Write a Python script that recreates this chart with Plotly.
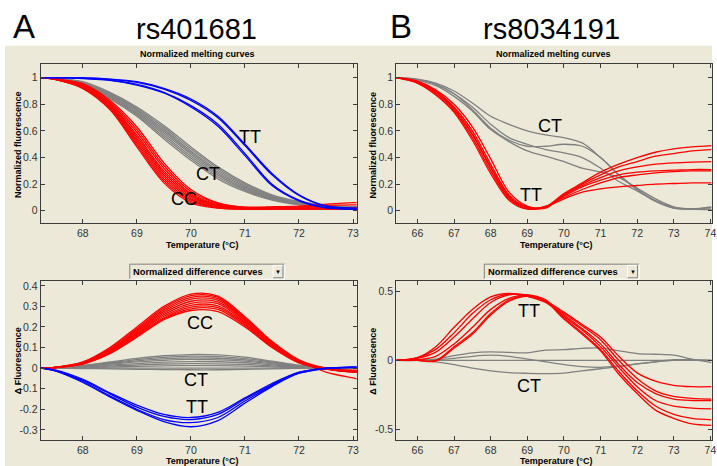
import plotly.graph_objects as go

# ---------------- data ----------------
T_A = [67.22, 67.5, 68.0, 68.5, 69.0, 69.5, 70.0, 70.5, 71.0, 71.5, 72.0, 72.5, 73.0, 73.07]
T_B = [65.42, 66.0, 66.5, 67.0, 67.5, 68.0, 68.5, 69.0, 69.5, 70.0, 70.5, 71.0, 71.5, 72.0, 72.5, 73.0, 73.5, 74.03]

# rs401681 normalized melting curves
A_melt_CC = [
    [1, 0.990, 0.955, 0.830, 0.630, 0.360, 0.160, 0.060, 0.028, 0.030, 0.035, 0.050, 0.062, 0.062],
    [1, 0.990, 0.950, 0.820, 0.610, 0.340, 0.145, 0.055, 0.025, 0.028, 0.030, 0.040, 0.045, 0.045],
    [1, 0.989, 0.945, 0.810, 0.590, 0.320, 0.130, 0.048, 0.022, 0.022, 0.022, 0.022, 0.022, 0.022],
    [1, 0.988, 0.940, 0.800, 0.570, 0.300, 0.120, 0.042, 0.020, 0.025, 0.022, 0.020, 0.020, 0.020],
    [1, 0.988, 0.935, 0.795, 0.555, 0.285, 0.110, 0.038, 0.018, 0.020, 0.020, 0.020, 0.020, 0.020],
    [1, 0.987, 0.932, 0.785, 0.540, 0.270, 0.100, 0.034, 0.016, 0.018, 0.018, 0.018, 0.018, 0.018],
    [1, 0.987, 0.928, 0.778, 0.525, 0.255, 0.090, 0.030, 0.015, 0.016, 0.016, 0.016, 0.016, 0.016],
    [1, 0.986, 0.925, 0.772, 0.510, 0.240, 0.080, 0.026, 0.014, 0.015, 0.015, 0.015, 0.015, 0.015],
    [1, 0.986, 0.921, 0.765, 0.495, 0.225, 0.070, 0.023, 0.013, 0.014, 0.014, 0.014, 0.014, 0.014],
    [1, 0.985, 0.918, 0.760, 0.480, 0.210, 0.060, 0.020, 0.012, 0.012, 0.012, 0.012, 0.012, 0.012],
]
A_melt_CT = [
    [1, 0.995, 0.970, 0.890, 0.780, 0.640, 0.480, 0.330, 0.210, 0.120, 0.070, 0.042, 0.030, 0.030],
    [1, 0.994, 0.965, 0.882, 0.770, 0.625, 0.465, 0.318, 0.200, 0.113, 0.066, 0.040, 0.029, 0.029],
    [1, 0.993, 0.960, 0.875, 0.760, 0.610, 0.450, 0.305, 0.190, 0.107, 0.062, 0.038, 0.028, 0.028],
    [1, 0.993, 0.956, 0.868, 0.750, 0.598, 0.438, 0.292, 0.182, 0.101, 0.058, 0.036, 0.027, 0.027],
    [1, 0.992, 0.952, 0.862, 0.740, 0.585, 0.425, 0.280, 0.172, 0.096, 0.055, 0.034, 0.026, 0.026],
    [1, 0.991, 0.948, 0.855, 0.730, 0.570, 0.410, 0.268, 0.163, 0.090, 0.051, 0.032, 0.026, 0.026],
    [1, 0.991, 0.944, 0.848, 0.720, 0.555, 0.395, 0.254, 0.154, 0.085, 0.048, 0.031, 0.025, 0.025],
    [1, 0.990, 0.940, 0.840, 0.710, 0.540, 0.380, 0.240, 0.145, 0.080, 0.045, 0.030, 0.025, 0.025],
]
A_melt_TT = [
    [1, 1.000, 0.998, 0.990, 0.970, 0.920, 0.840, 0.710, 0.500, 0.280, 0.120, 0.037, 0.020, 0.020],
    [1, 1.000, 0.998, 0.988, 0.965, 0.915, 0.830, 0.700, 0.490, 0.270, 0.115, 0.035, 0.020, 0.020],
    [1, 1.000, 0.995, 0.982, 0.950, 0.890, 0.790, 0.650, 0.430, 0.200, 0.080, 0.025, 0.012, 0.012],
    [1, 1.000, 0.994, 0.980, 0.945, 0.885, 0.780, 0.635, 0.415, 0.190, 0.075, 0.022, 0.012, 0.012],
]

# rs401681 normalized difference curves
A_diff_CC = [
    [0, 0.004, 0.030, 0.100, 0.200, 0.300, 0.360, 0.350, 0.250, 0.130, 0.040, 0.000, -0.010, -0.010],
    [0, 0.004, 0.028, 0.095, 0.192, 0.292, 0.352, 0.345, 0.245, 0.127, 0.038, -0.002, -0.012, -0.012],
    [0, 0.004, 0.027, 0.091, 0.186, 0.284, 0.344, 0.338, 0.240, 0.124, 0.037, -0.020, -0.048, -0.052],
    [0, 0.004, 0.026, 0.088, 0.180, 0.276, 0.335, 0.330, 0.235, 0.120, 0.035, -0.003, -0.014, -0.014],
    [0, 0.003, 0.025, 0.085, 0.175, 0.268, 0.325, 0.322, 0.230, 0.117, 0.034, -0.003, -0.015, -0.015],
    [0, 0.003, 0.024, 0.082, 0.170, 0.260, 0.315, 0.313, 0.224, 0.113, 0.032, -0.004, -0.016, -0.016],
    [0, 0.003, 0.023, 0.079, 0.165, 0.252, 0.305, 0.303, 0.218, 0.110, 0.030, -0.004, -0.017, -0.017],
    [0, 0.003, 0.022, 0.076, 0.160, 0.245, 0.296, 0.294, 0.212, 0.106, 0.028, -0.004, -0.018, -0.018],
    [0, 0.003, 0.021, 0.073, 0.155, 0.240, 0.288, 0.285, 0.206, 0.103, 0.026, -0.005, -0.019, -0.019],
    [0, 0.003, 0.020, 0.070, 0.150, 0.235, 0.280, 0.275, 0.200, 0.100, 0.025, -0.005, -0.020, -0.020],
]
A_diff_CT = [
    [0, 0.002, 0.014, 0.030, 0.047, 0.060, 0.066, 0.064, 0.053, 0.034, 0.014, 0.002, 0, 0],
    [0, 0.002, 0.012, 0.026, 0.041, 0.052, 0.058, 0.056, 0.046, 0.030, 0.012, 0.002, 0, 0],
    [0, 0.001, 0.010, 0.022, 0.035, 0.045, 0.050, 0.048, 0.040, 0.025, 0.010, 0.001, 0, 0],
    [0, 0.001, 0.008, 0.019, 0.030, 0.038, 0.042, 0.040, 0.034, 0.021, 0.008, 0.001, 0, 0],
    [0, 0.001, 0.006, 0.014, 0.022, 0.029, 0.032, 0.031, 0.026, 0.016, 0.006, 0.001, 0, 0],
    [0, 0.000, 0.004, 0.010, 0.015, 0.020, 0.022, 0.021, 0.018, 0.011, 0.004, 0.000, 0, 0],
    [0, 0.000, 0.002, 0.005, 0.008, 0.011, 0.012, 0.012, 0.010, 0.006, 0.002, 0.000, 0, 0],
    [0, 0.000, -0.002, -0.004, -0.006, -0.007, -0.008, -0.008, -0.006, -0.004, -0.001, 0.000, 0, 0],
    [0, 0.000, 0.000, 0.000, 0.000, 0.000, 0.000, 0.000, 0.000, 0.000, 0.000, 0.000, 0, 0],
]
A_diff_TT = [
    [0, -0.010, -0.055, -0.120, -0.180, -0.225, -0.240, -0.215, -0.145, -0.075, -0.020, 0.000, 0.005, 0.005],
    [0, -0.012, -0.060, -0.125, -0.190, -0.235, -0.250, -0.225, -0.150, -0.080, -0.022, 0.000, 0.005, 0.005],
    [0, -0.013, -0.065, -0.135, -0.200, -0.250, -0.265, -0.240, -0.160, -0.085, -0.025, -0.002, 0.004, 0.004],
    [0, -0.015, -0.070, -0.140, -0.205, -0.260, -0.285, -0.255, -0.170, -0.090, -0.025, -0.002, 0.003, 0.003],
]

# rs8034191 normalized melting curves
B_melt_TT = [
    [1, 0.970, 0.900, 0.780, 0.600, 0.350, 0.120, 0.030, 0.030, 0.130, 0.210, 0.290, 0.350, 0.400, 0.440, 0.465, 0.480, 0.490],
    [1, 0.965, 0.890, 0.760, 0.570, 0.320, 0.100, 0.020, 0.025, 0.120, 0.200, 0.270, 0.330, 0.370, 0.410, 0.430, 0.450, 0.460],
    [1, 0.975, 0.910, 0.800, 0.630, 0.390, 0.140, 0.035, 0.020, 0.120, 0.190, 0.250, 0.300, 0.330, 0.350, 0.360, 0.365, 0.370],
    [1, 0.960, 0.880, 0.750, 0.550, 0.300, 0.090, 0.015, 0.030, 0.110, 0.180, 0.230, 0.270, 0.290, 0.300, 0.305, 0.310, 0.310],
    [1, 0.960, 0.870, 0.740, 0.530, 0.280, 0.080, 0.012, 0.035, 0.100, 0.160, 0.210, 0.250, 0.270, 0.285, 0.295, 0.300, 0.300],
    [1, 0.970, 0.900, 0.770, 0.580, 0.330, 0.110, 0.025, 0.030, 0.090, 0.140, 0.165, 0.180, 0.190, 0.200, 0.205, 0.210, 0.210],
]
B_melt_CT = [
    [1, 0.990, 0.960, 0.900, 0.810, 0.710, 0.650, 0.600, 0.570, 0.550, 0.510, 0.400, 0.270, 0.160, 0.075, 0.025, 0.012, 0.025],
    [1, 0.985, 0.950, 0.880, 0.760, 0.620, 0.530, 0.485, 0.485, 0.500, 0.485, 0.400, 0.270, 0.160, 0.075, 0.020, 0.012, 0.012],
    [1, 0.985, 0.950, 0.880, 0.780, 0.650, 0.550, 0.500, 0.460, 0.435, 0.400, 0.320, 0.220, 0.150, 0.070, 0.020, 0.015, 0.030],
    [1, 0.980, 0.940, 0.860, 0.750, 0.610, 0.520, 0.450, 0.410, 0.370, 0.320, 0.290, 0.250, 0.170, 0.090, 0.030, 0.012, 0.010],
]

# rs8034191 normalized difference curves
B_diff_TT = [
    [0, 0.020, 0.080, 0.200, 0.340, 0.440, 0.480, 0.470, 0.430, 0.350, 0.260, 0.170, 0.030, -0.090, -0.150, -0.180, -0.190, -0.190],
    [0, 0.015, 0.060, 0.170, 0.300, 0.420, 0.475, 0.475, 0.430, 0.340, 0.250, 0.150, 0.000, -0.130, -0.220, -0.260, -0.275, -0.280],
    [0, 0.020, 0.100, 0.240, 0.370, 0.460, 0.485, 0.465, 0.420, 0.330, 0.230, 0.120, -0.030, -0.160, -0.240, -0.280, -0.290, -0.290],
    [0, 0.005, 0.030, 0.120, 0.240, 0.370, 0.450, 0.475, 0.440, 0.320, 0.220, 0.100, -0.050, -0.190, -0.290, -0.330, -0.345, -0.350],
    [0, 0.000, 0.000, 0.100, 0.200, 0.340, 0.440, 0.470, 0.430, 0.310, 0.200, 0.080, -0.080, -0.220, -0.330, -0.390, -0.420, -0.430],
    [0, 0.000, -0.005, 0.090, 0.190, 0.330, 0.430, 0.465, 0.425, 0.300, 0.190, 0.070, -0.100, -0.240, -0.360, -0.420, -0.460, -0.470],
]
B_diff_CT = [
    [0, 0.000, 0.010, 0.035, 0.055, 0.062, 0.058, 0.055, 0.075, 0.078, 0.088, 0.090, 0.070, 0.050, 0.045, 0.038, 0.010, -0.015],
    [0, 0.000, 0.005, 0.015, 0.030, 0.038, 0.030, 0.010, -0.010, -0.030, -0.045, -0.050, -0.040, -0.025, -0.010, 0.005, 0.005, 0.000],
    [0, 0.000, -0.010, -0.030, -0.055, -0.075, -0.088, -0.093, -0.095, -0.092, -0.075, -0.060, -0.045, -0.025, -0.010, 0.000, 0.000, 0.000],
    [0, 0.000, 0.000, 0.000, 0.000, 0.000, 0.000, 0.000, 0.000, 0.000, 0.000, 0.000, 0.000, 0.000, 0.000, 0.000, 0.000, 0.000],
]

# tick values / labels
A_xticks = [68, 69, 70, 71, 72, 73]
B_xticks = [66, 67, 68, 69, 70, 71, 72, 73, 74]
melt_yticks = [0, 0.2, 0.4, 0.6, 0.8, 1]
melt_ylabels = ["0", "0.2", "0.4", "0.6", "0.8", "1"]
A_diff_yticks = [-0.3, -0.2, -0.1, 0, 0.1, 0.2, 0.3, 0.4]
A_diff_ylabels = ["-0.3", "-0.2", "-0.1", "0", "0.1", "0.2", "0.3", "0.4"]
B_diff_yticks = [-0.5, 0, 0.5]
B_diff_ylabels = ["-0.5", "0", "0.5"]

# ---------------- figure ----------------
W, H = 717, 466
RED, BLUE, GRAY = "#FF0000", "#0000FF", "#808080"
BEIGE = "#ECE9D8"
SANS = "Liberation Sans, Arial, sans-serif"

fig = go.Figure()


def add_group(T, curves, color, xa, ya):
    for c in curves:
        fig.add_trace(go.Scatter(
            x=T, y=c, mode="lines", xaxis=xa, yaxis=ya,
            line=dict(color=color, width=1.3, shape="spline", smoothing=0.9),
            showlegend=False, hoverinfo="skip"))


add_group(T_A, A_melt_CT, GRAY, "x", "y")
add_group(T_A, A_melt_CC, RED, "x", "y")
add_group(T_A, A_melt_TT, BLUE, "x", "y")
add_group(T_B, B_melt_CT, GRAY, "x2", "y2")
add_group(T_B, B_melt_TT, RED, "x2", "y2")
add_group(T_A, A_diff_CT, GRAY, "x3", "y3")
add_group(T_A, A_diff_CC, RED, "x3", "y3")
add_group(T_A, A_diff_TT, BLUE, "x3", "y3")
add_group(T_B, B_diff_CT, GRAY, "x4", "y4")
add_group(T_B, B_diff_TT, RED, "x4", "y4")


def px(x):
    return x / W


def py(y):
    return 1 - y / H


A_dom = [px(41), px(359.3)]
B_dom = [px(399), px(716.5)]
top_dom = [py(222), py(62)]
bot_dom = [py(440), py(280.7)]

axis_common = dict(showline=True, linecolor="#3C3C3C", linewidth=1, mirror="ticks",
                   ticks="inside", ticklen=4, tickcolor="#3C3C3C", showgrid=False,
                   zeroline=False, tickfont=dict(family=SANS, size=10.5, color="#333333"),
                   ticklabeloverflow="allow")


def xax(dom, rng, ticks, anchor):
    d = dict(axis_common)
    d.update(domain=dom, range=rng, tickvals=ticks, ticktext=[str(t) for t in ticks], anchor=anchor)
    return d


def yax(dom, rng, ticks, labels, anchor):
    d = dict(axis_common)
    d.update(domain=dom, range=rng, tickvals=ticks, ticktext=labels, anchor=anchor)
    return d


fig.update_layout(
    width=W, height=H, margin=dict(l=0, r=0, t=0, b=0),
    paper_bgcolor="white", plot_bgcolor="white",
    xaxis=xax(A_dom, [67.22, 73.07], A_xticks, "y"),
    yaxis=yax(top_dom, [-0.092, 1.105], melt_yticks, melt_ylabels, "x"),
    xaxis2=xax(B_dom, [65.42, 74.03], B_xticks, "y2"),
    yaxis2=yax(top_dom, [-0.092, 1.105], melt_yticks, melt_ylabels, "x2"),
    xaxis3=xax(A_dom, [67.22, 73.07], A_xticks, "y3"),
    yaxis3=yax(bot_dom, [-0.35, 0.421], A_diff_yticks, A_diff_ylabels, "x3"),
    xaxis4=xax(B_dom, [65.42, 74.03], B_xticks, "y4"),
    yaxis4=yax(bot_dom, [-0.577, 0.572], B_diff_yticks, B_diff_ylabels, "x4"),
)

shapes = [
    dict(type="rect", xref="paper", yref="paper", x0=px(5), x1=1, y0=0, y1=py(44),
         fillcolor=BEIGE, line=dict(width=0), layer="below"),
]
annots = []


def ann(x, y, text, size, **kw):
    d = dict(xref="paper", yref="paper", x=px(x), y=py(y), text=text, showarrow=False,
             font=dict(family=kw.pop("family", SANS), size=size, color=kw.pop("color", "black")),
             xanchor=kw.pop("xanchor", "center"), yanchor=kw.pop("yanchor", "middle"))
    d.update(kw)
    annots.append(d)


# big titles
ann(24, 25, "A", 33)
ann(403.7, 25, "B", 33)
ann(198, 27, "rs401681", 29)
ann(555, 27, "rs8034191", 29)

for off in (0, 357):
    ann(199 + off + (1 if off else 0), 52.7, "<b>Normalized melting curves</b>", 9)
    ann(18.3 + off, 143.5, "<b>Normalized fluorescence</b>", 9, textangle=-90)
    ann(18.3 + off, 360.5, "<b>Δ Fluorescence</b>", 9, textangle=-90)
    ann(203 + off, 244, "<b>Temperature (°C)</b>", 9)
    ann(203 + off, 460.7, "<b>Temperature (°C)</b>", 9)
    # dropdown box
    x0, x1, y0, y1 = 130.7 + off, 286.7 + off, 263.3, 278.3
    shapes.append(dict(type="rect", xref="paper", yref="paper", x0=px(x0), x1=px(x1),
                       y0=py(y1), y1=py(y0), fillcolor=BEIGE, line=dict(width=0)))
    for (a, b, c, d, col) in [(x0, y0, x1, y0, "#808080"), (x0, y0, x0, y1, "#808080"),
                              (x0, y1, x1, y1, "#FFFFFF"), (x1, y0, x1, y1, "#FFFFFF")]:
        shapes.append(dict(type="line", xref="paper", yref="paper", x0=px(a), y0=py(b),
                           x1=px(c), y1=py(d), line=dict(color=col, width=1)))
    bx0, bx1, by0, by1 = 275 + off, 285 + off, 264.5, 277
    for (a, b, c, d, col) in [(bx0, by0, bx1, by0, "#FFFFFF"), (bx0, by0, bx0, by1, "#FFFFFF"),
                              (bx0, by1, bx1, by1, "#808080"), (bx1, by0, bx1, by1, "#808080")]:
        shapes.append(dict(type="line", xref="paper", yref="paper", x0=px(a), y0=py(b),
                           x1=px(c), y1=py(d), line=dict(color=col, width=1)))
    ann((bx0 + bx1) / 2, 271, "▼", 6)
    ann(132.3 + off, 271, "<b>Normalized difference curves</b>", 9.3, xanchor="left")

# genotype labels (data coordinates)
for (xr, yr, x, y, t) in [("x", "y", 71.1, 0.551, "TT"), ("x", "y", 70.31, 0.274, "CT"),
                          ("x", "y", 69.87, 0.0875, "CC"),
                          ("x3", "y3", 70.17, 0.22, "CC"), ("x3", "y3", 70.1, -0.058, "CT"),
                          ("x3", "y3", 70.12, -0.19, "TT"),
                          ("x2", "y2", 69.63, 0.637, "CT"), ("x2", "y2", 69.1, 0.117, "TT"),
                          ("x4", "y4", 69.04, 0.356, "TT"), ("x4", "y4", 69.05, -0.188, "CT")]:
    annots.append(dict(xref=xr, yref=yr, x=x, y=y, text=t, showarrow=False,
                       font=dict(family=SANS, size=18, color="black"),
                       xanchor="center", yanchor="middle"))

fig.update_layout(shapes=shapes, annotations=annots)
fig.write_html("out.html", config={"displayModeBar": False},
               post_script="document.body.style.margin='0';document.body.style.overflow='hidden';")
